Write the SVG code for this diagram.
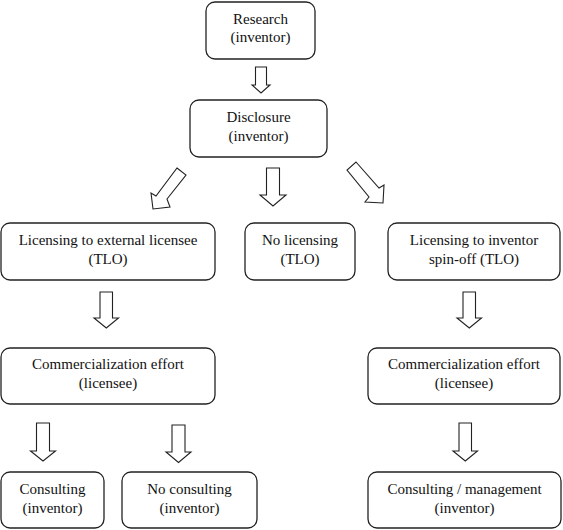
<svg xmlns="http://www.w3.org/2000/svg" width="563" height="530" viewBox="0 0 563 530">
<style>
.box{fill:#fff;stroke:#222;stroke-width:1.3}
.arr{fill:#fff;stroke:#222;stroke-width:1.1;stroke-linejoin:miter}
text{font-family:'Liberation Serif','Times New Roman',serif;font-size:15px;fill:#111;text-anchor:middle}
</style>
<rect width="563" height="530" fill="#fff"/>
<g id="connectors">
<polygon class="arr" points="255.5,67 266.5,67 266.5,85 270,85 261,93 252,85 255.5,85"/>
<polygon class="arr" points="266.5,168 279.5,168 279.5,195 286,195 273,206 260,195 266.5,195"/>
<polygon class="arr" points="177,168 186,175 167,199 170,207 153,209 151,193 156,196"/>
<polygon class="arr" points="356,162 379,188 384,185 383,203 365,202 369,197 347,170"/>
<polygon class="arr" points="100,292 112.5,292 112.5,318 118.5,318 106.3,328 94,318 100,318"/>
<polygon class="arr" points="463,292 475.5,292 475.5,318 481.5,318 469.3,328 457,318 463,318"/>
<polygon class="arr" points="36.5,423 49.5,423 49.5,451 55.5,451 43,461 30.5,451 36.5,451"/>
<polygon class="arr" points="172,425 185,425 185,452 191,452 178.5,462.5 166,452 172,452"/>
<polygon class="arr" points="459,423 471.5,423 471.5,451 477.5,451 465.3,461 453,451 459,451"/>
</g>
<g id="research"><rect class="box" x="206" y="2" width="109" height="57" rx="9"/><text x="260.5" y="24" font-family="Liberation Serif">Research</text><text x="260.5" y="42" font-family="Liberation Serif">(inventor)</text></g>
<g id="disclosure"><rect class="box" x="190" y="100" width="137" height="57" rx="9"/><text x="258.5" y="122" font-family="Liberation Serif">Disclosure</text><text x="258.5" y="141" font-family="Liberation Serif">(inventor)</text></g>
<g id="lic-ext"><rect class="box" x="1" y="223" width="214" height="57" rx="9"/><text x="108" y="245" font-family="Liberation Serif">Licensing to external licensee</text><text x="108" y="264" font-family="Liberation Serif">(TLO)</text></g>
<g id="no-lic"><rect class="box" x="245" y="223" width="110" height="57" rx="9"/><text x="300" y="245" font-family="Liberation Serif">No licensing</text><text x="300" y="264" font-family="Liberation Serif">(TLO)</text></g>
<g id="lic-inv"><rect class="box" x="388" y="223" width="172" height="57" rx="9"/><text x="474" y="245" font-family="Liberation Serif">Licensing to inventor</text><text x="474" y="264" font-family="Liberation Serif">spin-off (TLO)</text></g>
<g id="comm-left"><rect class="box" x="1" y="348" width="214" height="56" rx="9"/><text x="108" y="369" font-family="Liberation Serif">Commercialization effort</text><text x="108" y="388" font-family="Liberation Serif">(licensee)</text></g>
<g id="comm-right"><rect class="box" x="368" y="348" width="192" height="56" rx="9"/><text x="464" y="369" font-family="Liberation Serif">Commercialization effort</text><text x="464" y="388" font-family="Liberation Serif">(licensee)</text></g>
<g id="consulting"><rect class="box" x="1" y="472" width="103" height="56" rx="9"/><text x="52.5" y="494" font-family="Liberation Serif">Consulting</text><text x="52.5" y="513" font-family="Liberation Serif">(inventor)</text></g>
<g id="no-consulting"><rect class="box" x="122" y="472" width="135" height="56" rx="9"/><text x="189.5" y="494" font-family="Liberation Serif">No consulting</text><text x="189.5" y="513" font-family="Liberation Serif">(inventor)</text></g>
<g id="consulting-mgmt"><rect class="box" x="368" y="472" width="193" height="56" rx="9"/><text x="464.5" y="494" font-family="Liberation Serif">Consulting / management</text><text x="464.5" y="513" font-family="Liberation Serif">(inventor)</text></g>
</svg>
